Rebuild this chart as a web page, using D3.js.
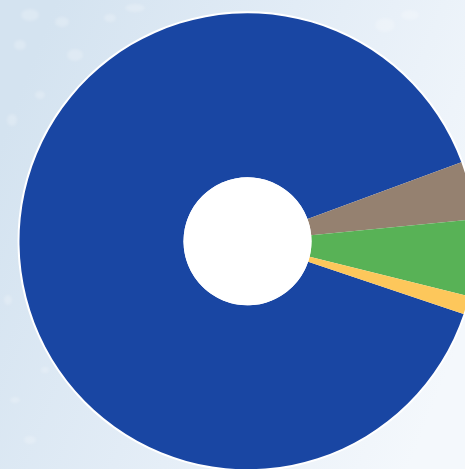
<!DOCTYPE html>
<html>
<head>
<meta charset="utf-8">
<script src="https://cdn.jsdelivr.net/npm/d3@7"></script>
<style>
  html, body { margin: 0; padding: 0; overflow: hidden; }
  svg { display: block; }
</style>
</head>
<body>
<div id="chart"></div>
<script>
// Share of each category (percent)
const categories = ["A", "B", "C", "D"];
const values = [89.2, 4.1, 5.4, 1.3];
const colors = ["#1946a3", "#958170", "#58b256", "#fdc75b"];

const width = 465, height = 469;
const cx = 247.5, cy = 241.3;
const outerR = 228, innerR = 64;

const svg = d3.select("#chart").append("svg")
  .attr("width", width).attr("height", height);

// soft blue backdrop, fading to near-white on the right
const defs = svg.append("defs");
const grad = defs.append("linearGradient")
  .attr("id", "bg").attr("x1", "0%").attr("y1", "30%").attr("x2", "100%").attr("y2", "70%");
grad.append("stop").attr("offset", "0%").attr("stop-color", "#d4e3f0");
grad.append("stop").attr("offset", "45%").attr("stop-color", "#e2ecf6");
grad.append("stop").attr("offset", "100%").attr("stop-color", "#f4f8fc");
svg.append("rect").attr("width", width).attr("height", height).attr("fill", "url(#bg)");

// faint water droplets on the backdrop
defs.append("filter").attr("id", "soft")
  .append("feGaussianBlur").attr("stdDeviation", 1.5);
const drops = [
  [30, 15, 9, 6], [62, 22, 7, 5], [110, 18, 6, 4], [75, 55, 8, 6], [20, 45, 6, 5],
  [135, 8, 10, 4], [40, 95, 5, 4], [12, 120, 5, 6], [385, 25, 10, 7], [410, 15, 9, 5],
  [15, 400, 5, 3], [30, 440, 6, 4], [45, 370, 4, 3], [8, 300, 4, 5]
];
svg.append("g").attr("filter", "url(#soft)")
  .selectAll("ellipse").data(drops).join("ellipse")
  .attr("cx", d => d[0]).attr("cy", d => d[1])
  .attr("rx", d => d[2]).attr("ry", d => d[3])
  .attr("fill", "#ffffff").attr("opacity", 0.22);

const g = svg.append("g").attr("transform", `translate(${cx},${cy})`);

// white rim around the ring
g.append("circle").attr("r", outerR + 2).attr("fill", "#ffffff");

const deg = Math.PI / 180;
const start = 108.6 * deg;
const pie = d3.pie().sort(null).value(d => d.v)
  .startAngle(start).endAngle(start + 2 * Math.PI);
const arc = d3.arc().innerRadius(innerR).outerRadius(outerR);

const data = categories.map((c, i) => ({ c, v: values[i], col: colors[i] }));

g.selectAll("path").data(pie(data)).join("path")
  .attr("d", arc)
  .attr("fill", d => d.data.col);

// white hole in the middle
g.append("circle").attr("r", innerR).attr("fill", "#ffffff");
</script>
</body>
</html>
